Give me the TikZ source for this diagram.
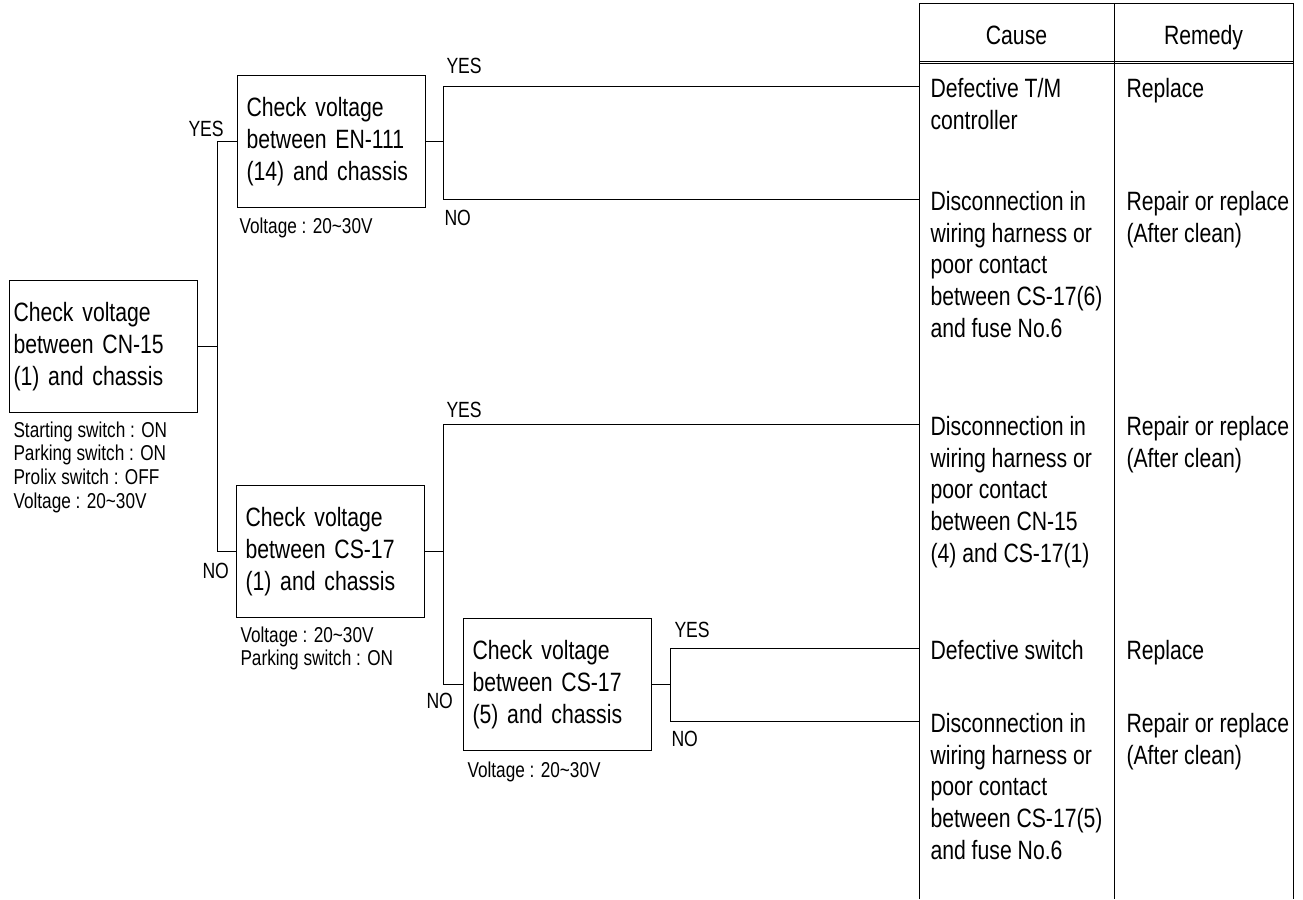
\documentclass[tikz,border=0pt]{standalone}
\usepackage{fontspec}
\setmainfont{Liberation Sans}[FakeStretch=0.8]
\usetikzlibrary{calc,positioning}

\newcommand{\boxfont}{\fontsize{26.5}{31.7}\selectfont}
\newcommand{\notefont}{\fontsize{21.5}{23.7}\selectfont}
\newcommand{\answerfont}{\fontsize{22}{24}\selectfont}
\newcommand{\volt}{Voltage : 20\textasciitilde30V}

\begin{document}
\begin{tikzpicture}[x=1pt,y=-1pt,line width=1pt,
    check node/.style={draw,anchor=north west,minimum width=188,minimum height=132,
                       inner xsep=9pt,text width=170pt,align=left,font=\boxfont},
    note/.style={anchor=north west,inner sep=0pt,align=left,font=\notefont},
    answer/.style={anchor=base west,inner sep=0pt,font=\answerfont},
    cell/.style={anchor=north west,inner sep=0pt,align=left,font=\boxfont}]

  \useasboundingbox (0,0) rectangle (1303,899);

  \node[check node,inner xsep=4pt,text width=180pt] (A) at (9,280) {Check voltage\\between CN-15\\(1) and chassis};
  \node[check node] (B) at (237,75) {Check voltage\\between EN-111\\(14) and chassis};
  \node[check node] (C) at (236,485) {Check voltage\\between CS-17\\(1) and chassis};
  \node[check node] (D) at (463,618) {Check voltage\\between CS-17\\(5) and chassis};

  \node[note] (noteA) at ([shift={(4,8)}]A.south west) {Starting switch : ON\\Parking switch : ON\\Prolix switch : OFF\\\volt};
  \node[note] (noteB) at ([shift={(2,9)}]B.south west) {\volt};
  \node[note] (noteC) at ([shift={(4,8)}]C.south west) {\volt\\Parking switch : ON};
  \node[note] (noteD) at ([shift={(4,10)}]D.south west) {\volt};

  % table
  \draw (919,899) -- (919,4) -- (1293,4) -- (1293,899);
  \draw (1114,4) -- (1114,899);
  \draw[line width=0.8pt] (919,61) -- (1293,61) (919,63.5) -- (1293,63.5);
  \node[font=\boxfont,anchor=base] (cause) at (1016.5,45) {Cause};
  \node[font=\boxfont,anchor=base] (remedy) at (1203.5,45) {Remedy};

  \coordinate (r1) at (919,86);
  \coordinate (r2) at (919,199);
  \coordinate (r3) at (919,424);
  \coordinate (r4) at (919,648);
  \coordinate (r5) at (919,721);

  \node[cell] (cause1) at ([shift={(11,-8.3)}]r1) {Defective T/M\\controller};
  \node[cell] (cause2) at ([shift={(11,-8.3)}]r2) {Disconnection in\\wiring harness or\\poor contact\\between CS-17(6)\\and fuse No.6};
  \node[cell] (cause3) at ([shift={(11,-8.3)}]r3) {Disconnection in\\wiring harness or\\poor contact\\between CN-15\\(4) and CS-17(1)};
  \node[cell] (cause4) at ([shift={(11,-8.3)}]r4) {Defective switch};
  \node[cell] (cause5) at ([shift={(11,-8.3)}]r5) {Disconnection in\\wiring harness or\\poor contact\\between CS-17(5)\\and fuse No.6};

  \node[cell] (remedy1) at ([shift={(207,-8.3)}]r1) {Replace};
  \node[cell] (remedy2) at ([shift={(207,-8.3)}]r2) {Repair or replace\\(After clean)};
  \node[cell] (remedy3) at ([shift={(207,-8.3)}]r3) {Repair or replace\\(After clean)};
  \node[cell] (remedy4) at ([shift={(207,-8.3)}]r4) {Replace};
  \node[cell] (remedy5) at ([shift={(207,-8.3)}]r5) {Repair or replace\\(After clean)};

  % branches
  \coordinate (busA) at (217,0);
  \coordinate (busB) at (443,0);
  \coordinate (busD) at (670,0);

  \draw (A.east) -- (A.east -| busA);
  \draw (B.west) -- (B.west -| busA) -- (C.west -| busA) -- (C.west);
  \draw (B.east) -- (B.east -| busB);
  \draw (r1) -- (r1 -| busB) -- (r2 -| busB) -- (r2);
  \draw (C.east) -- (C.east -| busB);
  \draw (r3) -- (r3 -| busB) -- (D.west -| busB) -- (D.west);
  \draw (D.east) -- (D.east -| busD);
  \draw (r4) -- (r4 -| busD) -- (r5 -| busD) -- (r5);

  \node[answer] (yesB) at (188,136) {YES};
  \node[answer] (noC) at (202,578) {NO};
  \node[answer] (yes1) at (446,74) {YES};
  \node[answer] (no2) at (444,225) {NO};
  \node[answer] (yes3) at (446,417) {YES};
  \node[answer] (noD) at (426,708) {NO};
  \node[answer] (yes4) at (674,637) {YES};
  \node[answer] (no5) at (671,746) {NO};

\end{tikzpicture}
\end{document}
